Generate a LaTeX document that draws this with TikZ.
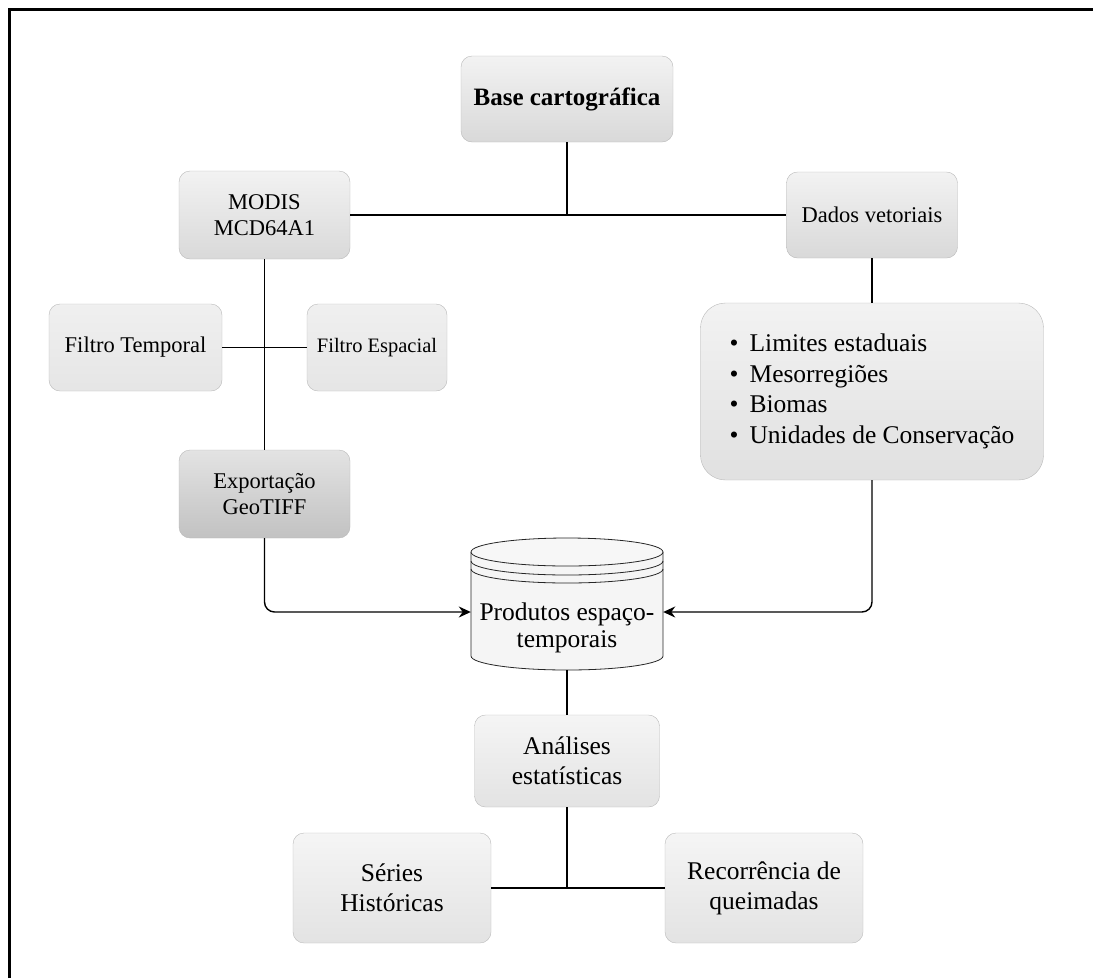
\documentclass[tikz,border=0pt]{standalone}
\usepackage{fontspec}
\setmainfont{Liberation Serif}
\usetikzlibrary{arrows.meta}
\begin{document}
\begin{tikzpicture}[x=1pt,y=-1pt]

    \tikzset{
      box/.style={
        draw=gray!55,
        rounded corners=11pt,
        top color=gray!10,
        bottom color=gray!30,
        align=center,
        inner sep=0pt,
        font=\fontsize{22.5}{26.5}\selectfont,
      },
      bigbox/.style={
        box,
        top color=gray!8,
        bottom color=gray!22,
        font=\fontsize{25.5}{30}\selectfont,
      },
      darkbox/.style={
        box,
        top color=gray!22,
        bottom color=gray!48,
      },
      link/.style={
        line width=1.4pt,
      },
      tip/.style={
        -{Stealth[length=12pt,width=11pt]},
      },
    }
    \useasboundingbox (0,0) rectangle (1093,978);

	\draw[line width=3pt] (9,978)--(9,9)--(1093,9);

	\node[box,minimum width=212pt,minimum height=86pt,font=\fontsize{25}{30}\selectfont\bfseries] (base) at (567,99) {Base cartográfica};
	\node[box,minimum width=171pt,minimum height=88pt] (modis) at (264.5,215) {MODIS\\MCD64A1};
	\node[box,minimum width=171pt,minimum height=86pt] (dados) at (872,215) {Dados vetoriais};
	\node[box,minimum width=173pt,minimum height=87pt,top color=gray!12,bottom color=gray!20] (ftemp) at (135.5,347.5) {Filtro Temporal};
	\node[box,minimum width=140pt,minimum height=87pt,top color=gray!12,bottom color=gray!20,font=\fontsize{20.5}{25}\selectfont] (fesp) at (377,347.5) {Filtro Espacial};
	\node[darkbox,minimum width=171pt,minimum height=88pt] (exp) at (264.5,494) {Exportação\\GeoTIFF};
	\node[bigbox,minimum width=343pt,minimum height=177pt,rounded corners=25pt,align=left,font=\fontsize{25.5}{30.5}\selectfont,top color=gray!10,bottom color=gray!24] (lista) at (872,391.5) {\makebox[20pt][l]{\textbullet}Limites estaduais\\\makebox[20pt][l]{\textbullet}Mesorregiões\\\makebox[20pt][l]{\textbullet}Biomas\\\makebox[20pt][l]{\textbullet}Unidades de Conservação};

	\fill[gray!8] (471,552)--(471,656) arc[start angle=180,end angle=360,x radius=96pt,y radius=14pt]--(663,552)--cycle;
	\draw[gray!30!black,line width=0.8pt] (471,552)--(471,656) arc[start angle=180,end angle=360,x radius=96pt,y radius=14pt]--(663,552);
	\draw[gray!30!black,line width=0.8pt,fill=gray!6] (567,552) ellipse[x radius=96pt,y radius=14pt];
	\draw[gray!30!black,line width=0.8pt] (471,561) arc[start angle=180,end angle=360,x radius=96pt,y radius=14pt];
	\draw[gray!30!black,line width=0.8pt] (471,569) arc[start angle=180,end angle=360,x radius=96pt,y radius=14pt];
	\node[align=center,minimum width=192pt,inner sep=0pt,font=\fontsize{25.5}{27}\selectfont] (prod) at (567,628) {Produtos espaço-\\temporais};
	\coordinate (prodbase) at (567,670);

	\node[bigbox,minimum width=185pt,minimum height=92pt] (anal) at (567,761) {Análises\\estatísticas};
	\node[bigbox,minimum width=198pt,minimum height=110pt] (series) at (392,888) {Séries\\Históricas};
	\node[bigbox,minimum width=198pt,minimum height=110pt] (rec) at (764,888) {Recorrência de\\queimadas};

	\coordinate (topjoin) at (base.south |- modis.east);
	\coordinate (botjoin) at (anal.south |- series.east);
	\draw[link] (base.south)--(topjoin);
	\draw[link] (modis.east)--(dados.west);
	\draw[link] (modis.south)--(exp.north);
	\draw[link] (ftemp.east)--(fesp.west);
	\draw[link] (dados.south)--(lista.north);
	\draw[link,tip,rounded corners=10pt] (exp.south)|-([yshift=16pt]prod.west);
	\draw[link,tip,rounded corners=10pt] (lista.south)|-([yshift=16pt]prod.east);
	\draw[link] (prodbase)--(anal.north);
	\draw[link] (anal.south)--(botjoin);
	\draw[link] (series.east)--(rec.west);

\end{tikzpicture}
\end{document}
